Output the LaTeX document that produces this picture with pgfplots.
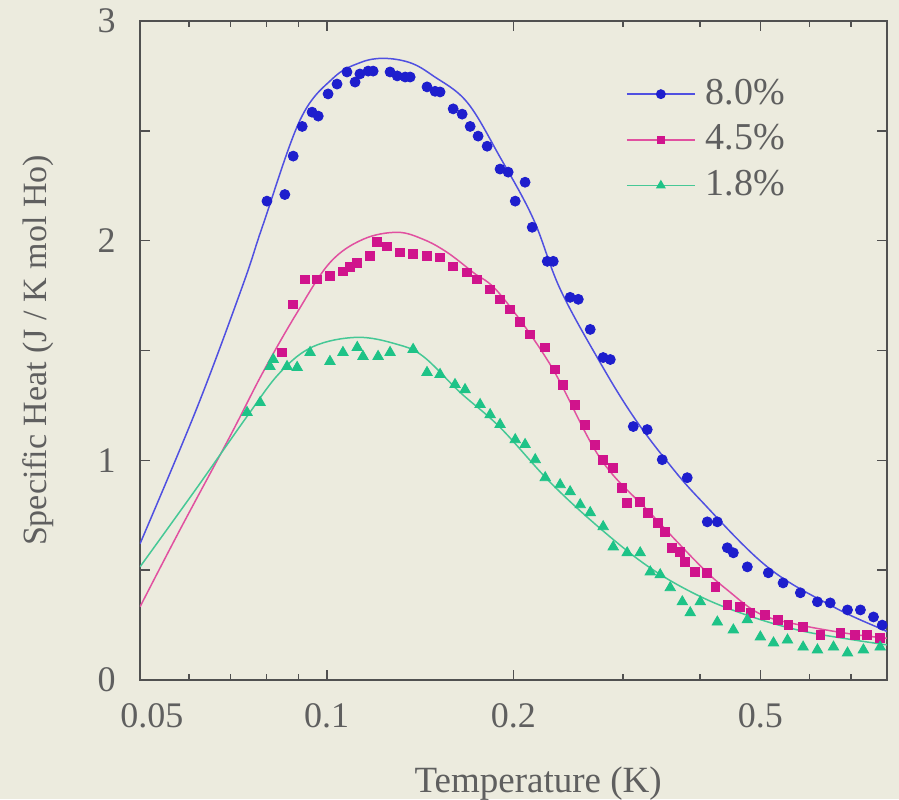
\documentclass[border=0pt]{standalone}
\usepackage{fontspec}
\setmainfont{Liberation Serif}
\usepackage{pgfplots}
\pgfplotsset{compat=1.18}
\definecolor{bgc}{RGB}{236,235,222}
\definecolor{axc}{RGB}{80,80,80}
\definecolor{txc}{RGB}{95,95,95}
\definecolor{bmark}{RGB}{30,30,205}
\definecolor{bline}{RGB}{80,80,225}
\definecolor{mmark}{RGB}{208,20,140}
\definecolor{mline}{RGB}{225,80,160}
\definecolor{gmark}{RGB}{30,195,135}
\definecolor{gline}{RGB}{70,200,150}
\begin{document}
\fontsize{18pt}{21pt}\selectfont
\begin{tikzpicture}
\fill[bgc] (-70pt,-59.5pt) rectangle (379.5pt,340pt);
\begin{axis}[
  at={(0pt,0pt)}, anchor=south west,
  scale only axis, width=373.5pt, height=329.5pt,
  xmode=log, xmin=0.05, xmax=0.8, ymin=0, ymax=3,
  xtick={0.05,0.1,0.2,0.5}, xticklabels={\hspace{12pt}0.05,0.1,0.2,0.5},
  minor xtick={0.06,0.07,0.08,0.09,0.3,0.4,0.6,0.7},
  ytick={0,0.5,1,1.5,2,2.5,3}, yticklabels={0,,1,,2,,3},
  major tick length=5pt, minor tick length=3pt,
  tick style={axc, line width=0.8pt},
  axis line style={axc, line width=1pt},
  tick align=inside,
  font=\fontsize{18pt}{21pt}\selectfont,
  /pgf/number format/assume math mode=true,
  ticklabel style={text=txc},
  xticklabel style={yshift=-5.5pt},
  yticklabel style={xshift=-6pt},
  xlabel={Temperature (K)},
  ylabel={Specific Heat (J / K mol Ho)},
  xlabel style={at={(axis description cs:0.533,-0.170)}, anchor=base, text=txc,
    font=\fontsize{18.5pt}{21pt}\selectfont},
  ylabel style={at={(axis description cs:-0.1245,0.5)}, anchor=base, rotate=0, text=txc,
    font=\fontsize{17pt}{20pt}\selectfont},
  legend style={at={(0.642,0.925)}, anchor=north west, draw=none, fill=none,
    font=\fontsize{19pt}{22pt}\selectfont, text=txc, row sep=3.5pt},
  legend cell align=left,
  legend image code/.code={\draw[mark repeat=2,mark phase=2,#1] plot coordinates {(0pt,0pt)(17pt,0pt)(34pt,0pt)};},
]
\addlegendimage{bline, line width=0.9pt, mark=*, mark size=2pt, mark options={bmark}}
\addlegendentry{\hspace{3pt}8.0\%}
\addlegendimage{mline, line width=0.9pt, mark=square*, mark size=1.6pt, mark options={mmark}}
\addlegendentry{\hspace{3pt}4.5\%}
\addlegendimage{gline, line width=0.9pt, mark=triangle*, mark size=2pt, mark options={gmark}}
\addlegendentry{\hspace{3pt}1.8\%}

% ---- fit curves ----
\addplot[bline, line width=0.75pt, smooth, tension=0.6] coordinates {
(0.05,0.62)(0.0618,1.24)(0.0733,1.80)(0.0789,2.07)(0.0906,2.55)(0.1024,2.74)
(0.1131,2.81)(0.1233,2.83)(0.1363,2.81)(0.1485,2.75)(0.1684,2.63)(0.1903,2.38)
(0.2152,2.10)(0.2378,1.78)(0.2759,1.445)(0.3120,1.20)(0.3539,0.994)(0.4001,0.82)
(0.5131,0.515)(0.656,0.333)(0.790,0.228)(0.80,0.222)};
\addplot[mline, line width=0.75pt, smooth, tension=0.6] coordinates {
(0.05,0.333)(0.0580,0.684)(0.0698,1.108)(0.0789,1.40)(0.0896,1.673)(0.1012,1.90)
(0.1144,2.006)(0.1299,2.038)(0.1431,2.006)(0.1563,1.947)(0.1721,1.856)(0.1903,1.756)
(0.2292,1.436)(0.2759,1.01)(0.3323,0.76)(0.4001,0.52)(0.4423,0.41)(0.5000,0.30)
(0.580,0.25)(0.698,0.21)(0.80,0.19)};
\addplot[gline, line width=0.75pt, smooth, tension=0.6] coordinates {
(0.05,0.515)(0.0618,0.876)(0.0744,1.20)(0.0841,1.40)(0.0951,1.518)(0.1120,1.56)
(0.1299,1.528)(0.1431,1.473)(0.164,1.31)(0.1903,1.15)(0.2292,0.90)(0.2759,0.69)
(0.3323,0.51)(0.4001,0.38)(0.4817,0.29)(0.580,0.225)(0.698,0.185)(0.80,0.16)};

% ---- data ----
\addplot[only marks, mark=*, mark size=2.5pt, bmark] coordinates {
(0.0801,2.18)(0.0856,2.21)(0.0883,2.385)(0.0913,2.52)(0.0947,2.585)(0.0969,2.567)
(0.1005,2.668)(0.1039,2.713)(0.1078,2.768)(0.1111,2.722)(0.1131,2.759)(0.1166,2.772)
(0.1188,2.772)(0.1265,2.768)(0.1299,2.75)(0.1338,2.745)(0.1363,2.745)(0.1451,2.70)
(0.1495,2.68)(0.1523,2.677)(0.1599,2.60)(0.1653,2.576)(0.1703,2.52)(0.1754,2.476)
(0.1814,2.43)(0.1903,2.326)(0.1961,2.312)(0.2013,2.18)(0.2088,2.266)(0.2144,2.061)
(0.2267,1.906)(0.2318,1.906)(0.2468,1.742)(0.2544,1.733)(0.2659,1.596)(0.2790,1.468)
(0.2865,1.459)(0.3120,1.154)(0.3286,1.14)(0.3474,1.003)(0.3812,0.921)(0.4106,0.72)
(0.4262,0.72)(0.4423,0.602)(0.4523,0.579)(0.4764,0.515)(0.515,0.488)(0.544,0.442)
(0.580,0.397)(0.618,0.356)(0.648,0.351)(0.691,0.319)(0.725,0.319)(0.761,0.287)(0.786,0.25)};
\addplot[only marks, mark=square*, mark size=2.2pt, mmark] coordinates {
(0.0847,1.491)(0.0883,1.71)(0.0923,1.824)(0.0965,1.824)(0.1012,1.838)(0.1062,1.86)
(0.1091,1.88)(0.1120,1.90)(0.1175,1.929)(0.1205,1.993)(0.1252,1.974)(0.1313,1.947)
(0.1378,1.938)(0.1451,1.929)(0.1523,1.924)(0.1599,1.883)(0.1684,1.856)(0.1748,1.824)
(0.1834,1.778)(0.1903,1.733)(0.1976,1.687)(0.2050,1.632)(0.2128,1.573)(0.2250,1.514)
(0.2335,1.414)(0.2405,1.345)(0.2514,1.254)(0.2610,1.163)(0.2709,1.072)(0.2790,1.003)
(0.2896,0.967)(0.2995,0.876)(0.3050,0.807)(0.3201,0.812)(0.3297,0.762)(0.3422,0.716)
(0.3512,0.675)(0.3605,0.602)(0.3714,0.584)(0.3784,0.538)(0.3927,0.492)(0.4106,0.488)
(0.4230,0.424)(0.4423,0.342)(0.4641,0.333)(0.4817,0.306)(0.509,0.296)(0.533,0.274)
(0.555,0.251)(0.586,0.242)(0.625,0.205)(0.673,0.214)(0.711,0.205)(0.743,0.205)(0.780,0.192)};
\addplot[only marks, mark=triangle*, mark size=3pt, gmark] coordinates {
(0.0744,1.218)(0.0781,1.263)(0.0810,1.427)(0.0820,1.459)(0.0863,1.427)(0.0896,1.423)
(0.0940,1.491)(0.1012,1.45)(0.1062,1.491)(0.1120,1.514)(0.1144,1.473)(0.1210,1.473)
(0.1265,1.491)(0.1378,1.505)(0.1451,1.40)(0.1523,1.391)(0.1610,1.345)(0.1671,1.322)
(0.1767,1.254)(0.1834,1.208)(0.1903,1.163)(0.2013,1.094)(0.2088,1.072)(0.2168,1.003)
(0.2250,0.921)(0.2378,0.889)(0.2468,0.857)(0.2562,0.798)(0.2659,0.762)(0.2790,0.698)
(0.2896,0.606)(0.3050,0.579)(0.3201,0.579)(0.3323,0.492)(0.3448,0.479)(0.3579,0.42)
(0.3743,0.356)(0.3855,0.306)(0.4001,0.356)(0.4262,0.264)(0.4523,0.228)(0.4764,0.274)
(0.5000,0.196)(0.525,0.169)(0.553,0.182)(0.586,0.150)(0.618,0.137)(0.656,0.150)
(0.691,0.123)(0.733,0.137)(0.780,0.150)};
\end{axis}
\pgfresetboundingbox
\path (-70pt,-59.5pt) rectangle (379.5pt,340pt);
\end{tikzpicture}
\end{document}
